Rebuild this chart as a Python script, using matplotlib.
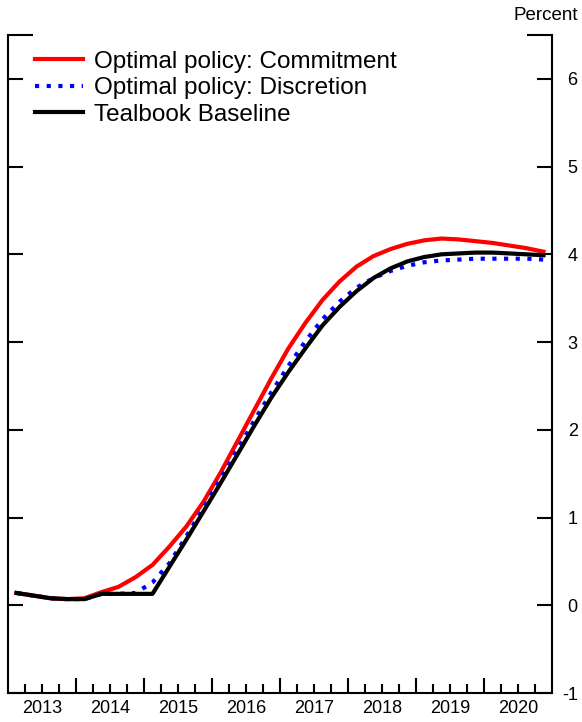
import numpy as np
import pandas as pd
import matplotlib
matplotlib.use("Agg")
import matplotlib.pyplot as plt
from matplotlib.ticker import FixedLocator, NullFormatter

plt.rcParams["font.family"] = ["Liberation Sans", "DejaVu Sans"]
plt.rcParams["axes.unicode_minus"] = False

# quarterly path, 2013Q1 - 2020Q4
quarters = pd.period_range("2013Q1", "2020Q4", freq="Q")
commitment = [0.14, 0.11, 0.08, 0.07, 0.08, 0.15, 0.21, 0.32, 0.46, 0.67, 0.90, 1.18,
              1.51, 1.87, 2.23, 2.59, 2.93, 3.22, 3.48, 3.69, 3.86, 3.98, 4.06, 4.12,
              4.16, 4.18, 4.17, 4.15, 4.13, 4.10, 4.07, 4.03]
discretion = [0.14, 0.11, 0.08, 0.07, 0.07, 0.13, 0.13, 0.14, 0.26, 0.48, 0.79, 1.11,
              1.44, 1.78, 2.11, 2.43, 2.73, 3.01, 3.26, 3.46, 3.62, 3.73, 3.81, 3.87,
              3.91, 3.93, 3.94, 3.95, 3.95, 3.95, 3.95, 3.94]
baseline = [0.14, 0.11, 0.08, 0.07, 0.07, 0.13, 0.13, 0.13, 0.13, 0.44, 0.75, 1.07,
            1.39, 1.72, 2.05, 2.37, 2.66, 2.93, 3.19, 3.40, 3.58, 3.73, 3.84, 3.92,
            3.97, 4.00, 4.01, 4.02, 4.02, 4.01, 4.00, 3.99]
year_labels = ["2013", "2014", "2015", "2016", "2017", "2018", "2019", "2020"]

# mid-quarter position in fractional years
x = quarters.year + (quarters.quarter - 0.5) / 4.0

fig = plt.figure(figsize=(5.82, 7.22), dpi=100)
ax = fig.add_axes([8 / 582, 29 / 722, 544 / 582, 658 / 722])

ax.plot(x, commitment, color="red", lw=3, label="Optimal policy: Commitment")
ax.plot(x, discretion, color="blue", lw=3, dashes=(1, 1.8),
        label="Optimal policy: Discretion")
ax.plot(x, baseline, color="black", lw=3, label="Tealbook Baseline")

ax.set_xlim(2013, 2021)
ax.set_ylim(-1, 6.5)

for s in ["left", "right", "bottom"]:
    ax.spines[s].set_linewidth(1.5)
ax.spines["top"].set_visible(False)

# y axis: labels on the right, ticks inward on both sides
ax.yaxis.set_major_locator(FixedLocator(range(-1, 7)))
ax.yaxis.set_minor_locator(FixedLocator([6.5]))
ax.tick_params(axis="y", which="major", direction="in", length=11, width=1.5,
               left=True, right=True, labelleft=False, labelright=True,
               labelsize=13, pad=18.5)
ax.tick_params(axis="y", which="minor", direction="in", length=18, width=1.5,
               left=True, right=True)
for lab in ax.get_yticklabels():
    lab.set_horizontalalignment("right")

# x axis: year ticks long, quarter ticks short, labels centred in the year
years = np.arange(2014, 2021)
qticks = [y + q / 4 for y in range(2013, 2021) for q in (1, 2, 3)]
ax.xaxis.set_major_locator(FixedLocator(years))
ax.xaxis.set_major_formatter(NullFormatter())
ax.xaxis.set_minor_locator(FixedLocator(qticks))
ax.tick_params(axis="x", which="major", direction="in", length=11, width=1.5)
ax.tick_params(axis="x", which="minor", direction="in", length=6.5, width=1.5)

sec = ax.secondary_xaxis("bottom")
sec.set_xticks(np.arange(2013.5, 2021, 1.0), year_labels)
sec.tick_params(length=0, labelsize=13, pad=5)
sec.spines["bottom"].set_visible(False)

fig.text(578 / 582, 1 - 16 / 722, "Percent", ha="right", va="center", fontsize=13.5)

ax.legend(loc="upper left", bbox_to_anchor=(0.049, 0.976), frameon=False,
          fontsize=17.5, handlelength=2.0, handletextpad=0.45, labelspacing=0.18,
          borderpad=0, borderaxespad=0)

fig.savefig("out.png", dpi=100)
